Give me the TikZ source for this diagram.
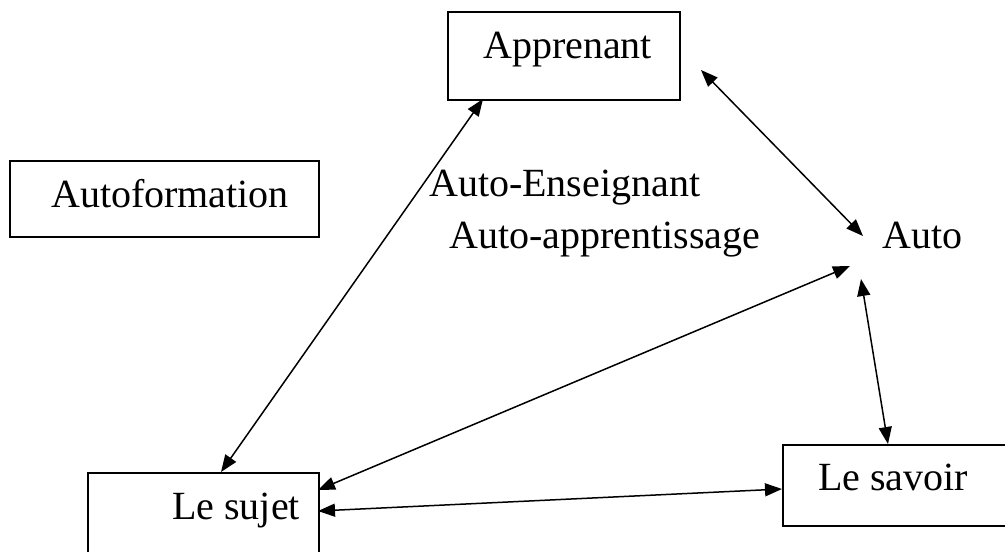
\documentclass[tikz,border=0pt]{standalone}
\usepackage{fontspec}
\setmainfont{Liberation Serif}
\usetikzlibrary{arrows.meta}
\begin{document}
\begin{tikzpicture}[x=1pt,y=-1pt,
  boxline/.style={draw=black,line width=1.5pt},
  lbl/.style={anchor=base west,inner sep=0pt,font=\fontsize{40}{48}\selectfont},
  link/.style={line width=1.5pt,{Triangle[length=17pt,width=13pt]}-{Triangle[length=17pt,width=13pt]}}]
\useasboundingbox (0,0) rectangle (1005,552);
\clip (0,0) rectangle (1005,552);
% boxes
\node[boxline,minimum width=232pt,minimum height=88pt,anchor=north west,inner sep=0pt] (appbox) at (447,11) {};
\node[boxline,minimum width=309pt,minimum height=76pt,anchor=north west,inner sep=0pt] (autofbox) at (9,160) {};
\node[boxline,minimum width=231pt,minimum height=110pt,anchor=north west,inner sep=0pt] (sujetbox) at (87,472) {};
\node[boxline,minimum width=240pt,minimum height=81pt,anchor=north west,inner sep=0pt] (savoirbox) at (782,444) {};
% texts
\node[lbl] (app) at (483,58) {Apprenant};
\node[lbl] (autof) at (51,207) {Autoformation};
\node[lbl] (ens) at (429,196) {Auto-Enseignant};
\node[lbl] (appr) at (449,248) {Auto-apprentissage};
\node[lbl] (auto) at (882,248) {Auto};
\node[lbl] (sujet) at (172,519) {Le sujet};
\node[lbl] (savoir) at (818,490) {Le savoir};
% connector end points
\coordinate (a1) at (483,99);
\coordinate (s1) at (221,472);
\coordinate (a2) at (701,70);
\coordinate (u1) at (863,236);
\coordinate (s2) at (318,490);
\coordinate (u2) at (850,266);
\coordinate (u3) at (861,279);
\coordinate (v1) at (888,444);
\coordinate (s3) at (318,511);
\coordinate (v2) at (782,489);
% connectors
\draw[link] (a1) -- (s1);
\draw[link] (a2) -- (u1);
\draw[link] (s2) -- (u2);
\draw[link] (u3) -- (v1);
\draw[link] (s3) -- (v2);
\end{tikzpicture}
\end{document}
